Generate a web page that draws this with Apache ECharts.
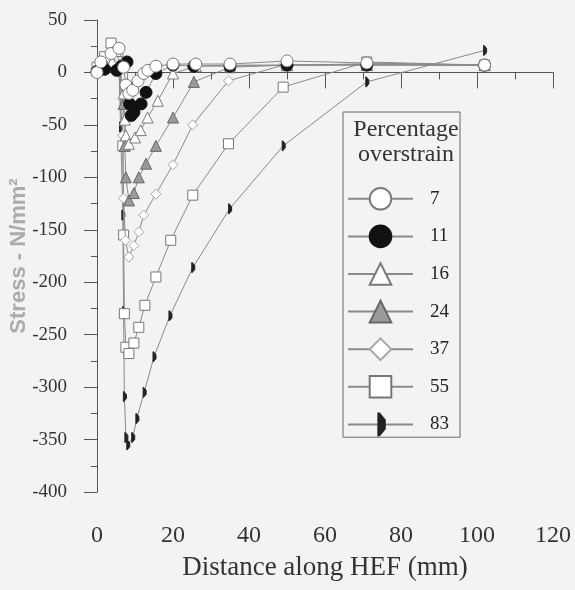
<!DOCTYPE html>
<html>
<head>
<meta charset="utf-8">
<script src="https://cdn.jsdelivr.net/npm/echarts@6/dist/echarts.min.js"></script>
<style>
  html, body { margin: 0; padding: 0; background: #f3f3f3; }
  #chart { width: 575px; height: 590px; }
</style>
</head>
<body>
<div id="chart"></div>
<script>
// Residual stress profiles along the HEF for each percentage overstrain.
// Each point is [distance (mm), stress (N/mm^2)].
const overstrainLevels = ['7', '11', '16', '24', '37', '55', '83'];

const stress7 = [[0,0],[1,10],[3.7,18],[5.8,23],[7,5],[7.6,-12],[8.4,-20],[9.4,-17],[10.8,-8],[12.3,-1],[13.4,2],[15.5,6],[20,8],[26,8],[35,8],[50,11],[71,9],[102,7]];
const stress11 = [[0,1],[2,3],[5.2,2],[6.5,6],[7.9,10],[8.1,-14],[8.6,-30],[9,-41],[9.7,-38],[11.6,-30],[12.9,-19],[15.5,-1],[20,7],[25.5,6],[35,6],[50,7],[71,7],[102,7]];
const stress16 = [[0,3],[2,8],[4,10],[6,5],[7,-20],[7.3,-45],[7.6,-60],[8.4,-68],[10,-62],[11.5,-55],[13.3,-43],[16,-27],[20,-1],[26,6],[35,7],[50,7],[71,8],[102,7]];
const stress24 = [[0,2],[2,5],[4,8],[6,6],[7,-30],[7.3,-70],[7.6,-100],[8.4,-122],[9.7,-115],[11,-100],[12.9,-87],[15.5,-70],[20,-43],[25.5,-9],[35,5],[50,7],[71,7],[102,7]];
const stress37 = [[0,3],[2,6],[4,10],[6,8],[6.8,-60],[7,-120],[7.5,-160],[8.4,-176],[9.7,-165],[11,-152],[12.3,-136],[15.5,-116],[20,-88],[25.2,-50],[34.6,-8],[49,7],[71,8],[102,7]];
const stress55 = [[0,5],[2,15],[3.7,28],[5.5,20],[6.8,-70],[7,-155],[7.2,-230],[7.6,-262],[8.4,-268],[9.7,-258],[11,-243],[12.6,-222],[15.5,-195],[19.4,-160],[25.2,-117],[34.6,-68],[49,-14],[71,10],[102,7]];
const stress83 = [[0,2],[2,10],[4,12],[5.8,5],[6.2,-52],[6.8,-136],[7,-228],[7.2,-309],[7.6,-348],[8.1,-355],[9.4,-348],[10.5,-330],[12.4,-305],[15,-271],[19.2,-232],[25.2,-186],[34.9,-130],[49,-70],[71,-9],[102,21]];

const profiles = [stress7, stress11, stress16, stress24, stress37, stress55, stress83];

// Axis ranges
const xRange = { min: 0, max: 120, step: 20 };
const yRange = { min: -400, max: 50, step: 50 };

// Marker appearance per overstrain level
const halfDiamond = 'path://M0,0M20,20M9,0L14,6L14,14L9,20L8,20L8,0Z';
const markerStyles = [
  { symbol: 'circle',   size: 12, fill: '#ffffff', stroke: '#7a7a7a' },
  { symbol: 'circle',   size: 12, fill: '#111111', stroke: '#111111' },
  { symbol: 'triangle', size: 11, fill: '#ffffff', stroke: '#7a7a7a' },
  { symbol: 'triangle', size: 11, fill: '#9a9a9a', stroke: '#666666' },
  { symbol: 'diamond',  size: 10, fill: '#ffffff', stroke: '#a8a8a8' },
  { symbol: 'rect',     size: 10, fill: '#ffffff', stroke: '#777777' },
  { symbol: halfDiamond, size: 10, fill: '#222222', stroke: '#222222' }
];

const serif = 'Liberation Serif';

const series = profiles.map((data, i) => ({
  name: overstrainLevels[i],
  type: 'line',
  data: data,
  symbol: markerStyles[i].symbol,
  symbolSize: markerStyles[i].size,
  lineStyle: { color: '#8a8a8a', width: 1 },
  itemStyle: { color: markerStyles[i].fill, borderColor: markerStyles[i].stroke, borderWidth: 1 },
  emphasis: { disabled: true },
  animation: false,
  z: 10 - i
}));

const chart = echarts.init(document.getElementById('chart'), null, { renderer: 'canvas' });

chart.setOption({
  backgroundColor: '#f3f3f3',
  animation: false,
  title: {
    text: 'Percentage\noverstrain',
    left: 401,
    top: 112,
    textAlign: 'center',
    textStyle: { fontFamily: serif, fontSize: 24, fontWeight: 'normal', color: '#333', lineHeight: 25 }
  },
  legend: {
    orient: 'vertical',
    left: 343,
    top: 112,
    padding: [75, 11, 1, 4],
    itemWidth: 65,
    itemHeight: 27,
    itemGap: 14,
    borderColor: '#666',
    borderWidth: 1,
    selectedMode: false,
    data: overstrainLevels,
    textStyle: { fontFamily: serif, fontSize: 19, color: '#222', padding: [0, 0, 0, 12] }
  },
  grid: { left: 97, top: 20, width: 456, height: 472, containLabel: false, outerBoundsMode: 'none' },
  xAxis: {
    type: 'value',
    min: xRange.min,
    max: xRange.max,
    interval: xRange.step,
    name: 'Distance along HEF (mm)',
    nameLocation: 'middle',
    nameGap: 62,
    nameMoveOverlap: false,
    nameTextStyle: { fontFamily: serif, fontSize: 27, color: '#333' },
    axisLine: { lineStyle: { color: '#555', width: 1 } },
    axisTick: { length: 16, lineStyle: { color: '#555' } },
    minorTick: { show: true, splitNumber: 2, length: 7, lineStyle: { color: '#555' } },
    axisLabel: { fontFamily: serif, fontSize: 24, color: '#333', margin: 32 },
    splitLine: { show: false }
  },
  yAxis: {
    type: 'value',
    min: yRange.min,
    max: yRange.max,
    interval: yRange.step,
    name: 'Stress - N/mm²',
    nameLocation: 'middle',
    nameGap: 67,
    nameMoveOverlap: false,
    nameTextStyle: { fontFamily: 'Liberation Sans', fontSize: 22, fontWeight: 'bold', color: '#ababab' },
    axisLine: { onZero: false, lineStyle: { color: '#555', width: 1 } },
    axisTick: { length: 13, lineStyle: { color: '#555' } },
    minorTick: { show: true, splitNumber: 2, length: 6, lineStyle: { color: '#555' } },
    axisLabel: {
      margin: 30,
      formatter: v => '{t|' + v + '}',
      rich: { t: { fontFamily: serif, fontSize: 19, color: '#333' } }
    },
    splitLine: { show: false }
  },
  series: series
});
</script>
</body>
</html>
